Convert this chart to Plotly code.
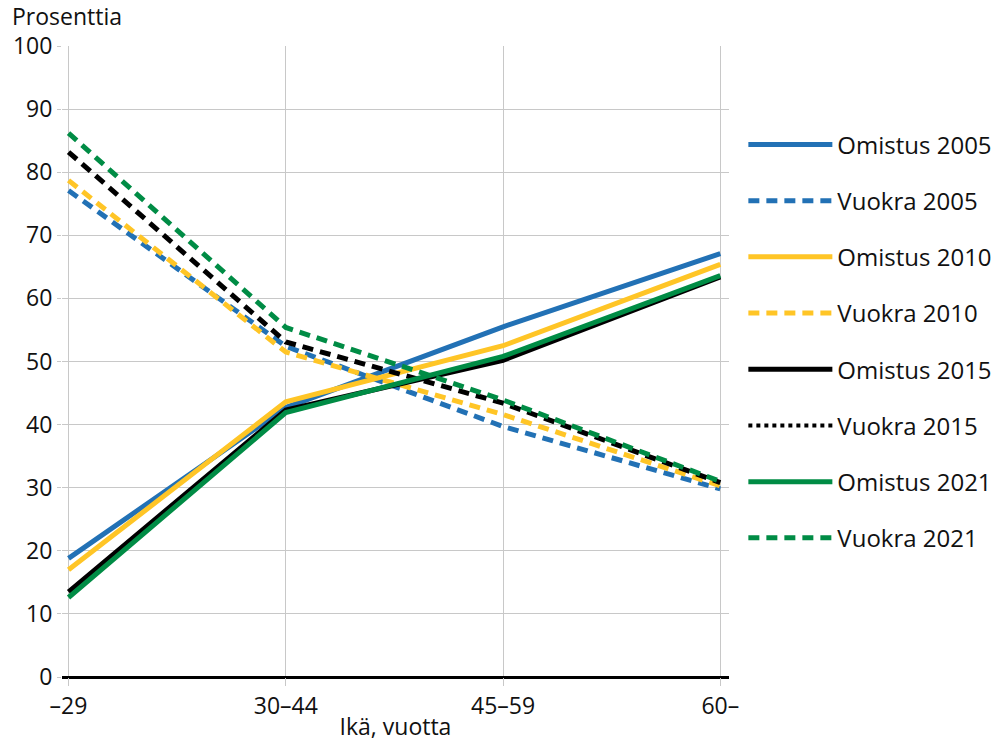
import plotly.graph_objects as go

# Age groups on the x axis
age_groups = ["–29", "30–44", "45–59", "60–"]

# Share (%) by age group: owners (Omistus) and renters (Vuokra)
omistus_2005 = [18.8, 42.7, 55.5, 67.1]
vuokra_2005 = [77.1, 52.4, 39.7, 29.8]
omistus_2010 = [17.0, 43.6, 52.5, 65.4]
vuokra_2010 = [78.7, 51.5, 41.6, 30.3]
omistus_2015 = [13.5, 42.3, 50.2, 63.4]
vuokra_2015 = [83.2, 53.1, 43.4, 30.8]
omistus_2021 = [12.6, 41.9, 50.8, 63.6]
vuokra_2021 = [86.2, 55.4, 43.9, 31.0]

y_ticks = [0, 10, 20, 30, 40, 50, 60, 70, 80, 90, 100]

BLUE = "#2271b5"
YELLOW = "#ffc526"
BLACK = "#000000"
GREEN = "#008c45"
FONT = "Open Sans"
FS = 23
LEG_FS = 24
DASH = "11px,7px"

series = [
    ("Omistus 2005", omistus_2005, BLUE, "solid"),
    ("Vuokra 2005", vuokra_2005, BLUE, DASH),
    ("Omistus 2010", omistus_2010, YELLOW, "solid"),
    ("Vuokra 2010", vuokra_2010, YELLOW, DASH),
    ("Omistus 2015", omistus_2015, BLACK, "solid"),
    ("Vuokra 2015", vuokra_2015, BLACK, DASH),
    ("Omistus 2021", omistus_2021, GREEN, "solid"),
    ("Vuokra 2021", vuokra_2021, GREEN, DASH),
]

fig = go.Figure()
for i, (name, vals, color, dash) in enumerate(series):
    show = True
    if name == "Vuokra 2015":
        # the legend key for this series is drawn dotted
        show = False
        fig.add_trace(go.Scatter(
            x=[None], y=[None], mode="lines", name=name,
            line=dict(color=color, width=4, dash="dot"),
            legendgroup=f"g{i}", legendrank=i + 1,
        ))
    fig.add_trace(go.Scatter(
        x=age_groups, y=vals, mode="lines", name=name,
        line=dict(color=color, width=5, dash=dash),
        showlegend=show, legendgroup=f"g{i}", legendrank=i + 1,
    ))

fig.update_layout(
    width=1008, height=742,
    margin=dict(l=62, r=278, t=46, b=65),
    paper_bgcolor="white", plot_bgcolor="white",
    font=dict(family=FONT, size=FS, color="#111111"),
    showlegend=True,
    legend=dict(
        x=1.02, xanchor="left", y=0.879, yanchor="top",
        font=dict(size=LEG_FS), tracegroupgap=22,
        bgcolor="rgba(0,0,0,0)", itemwidth=84,
    ),
    xaxis=dict(
        type="category", categoryorder="array", categoryarray=age_groups,
        range=[-0.03, 3.04], automargin=False,
        showgrid=True, gridcolor="#c8c8c8", gridwidth=1,
        ticks="outside", ticklen=8, tickcolor="#c8c8c8",
        tickfont=dict(size=FS), showline=False, zeroline=False,
        title=dict(text="Ikä, vuotta", font=dict(size=FS), standoff=0),
    ),
    yaxis=dict(
        range=[0, 100], tickvals=y_ticks, automargin=False,
        showgrid=True, gridcolor="#c8c8c8", gridwidth=1,
        ticks="outside", ticklen=4, tickcolor="#c8c8c8",
        tickfont=dict(size=FS),
        zeroline=True, zerolinecolor="#000000", zerolinewidth=3,
        showline=False,
    ),
    annotations=[dict(
        text="Prosenttia", xref="paper", yref="paper",
        x=-52 / 668, y=1.0, xanchor="left", yanchor="bottom",
        yshift=12, showarrow=False, font=dict(size=FS),
    )],
)

fig.write_html("out.html")
